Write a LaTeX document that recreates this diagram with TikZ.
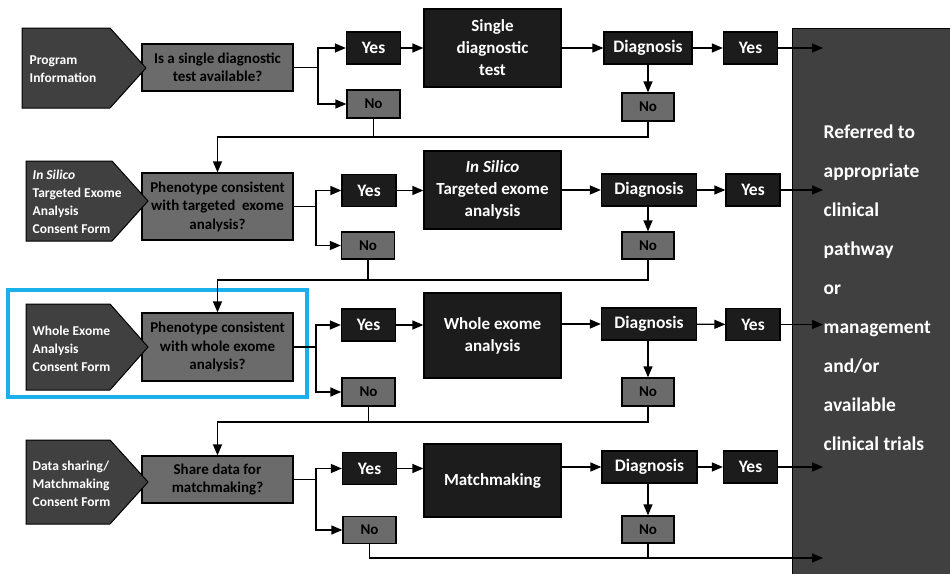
\documentclass[tikz,border=0pt]{standalone}
\usepackage{fontspec}
\setmainfont{Carlito}
\usetikzlibrary{arrows.meta}

\definecolor{tabgray}{HTML}{404040}
\definecolor{askgray}{HTML}{6B6B6B}
\definecolor{boxblack}{HTML}{1C1C1C}
\definecolor{hilite}{HTML}{1AB0EA}

\begin{document}
\begin{tikzpicture}[x=1pt, y=-1pt, line width=1.3pt,
    >={Triangle[length=11pt,width=9pt]},
    tab/.style={draw=black, fill=tabgray, line width=1pt},
    tabtext/.style={anchor=west, align=left, text=white, inner sep=0pt,
      font=\fontsize{13.5}{18}\selectfont\bfseries},
    ask/.style={draw=black, fill=askgray, minimum width=151pt, align=center,
      inner sep=0pt, font=\fontsize{15}{18.5}\selectfont\bfseries},
    yesbox/.style={draw=black, fill=boxblack, text=white, minimum width=54pt,
      minimum height=32pt, inner sep=0pt, font=\fontsize{17.5}{20}\selectfont\bfseries},
    nobox/.style={draw=black, fill=askgray, minimum width=53pt, minimum height=27pt,
      inner sep=0pt, font=\fontsize{15}{18}\selectfont\bfseries},
    diagbox/.style={yesbox, minimum width=95pt},
    testbox/.style={draw=black, fill=boxblack, text=white, minimum width=137pt,
      align=center, inner sep=0pt, font=\fontsize{17}{22}\selectfont\bfseries}]
  \path[use as bounding box, fill=white] (0,0) rectangle (950,573);

  % right hand panel
  \node[draw=black, fill=tabgray, minimum width=162pt, minimum height=548pt,
    anchor=north west, inner sep=0pt] (panel) at (792,28) {};
  \node[anchor=north west, align=left, text=white, inner sep=0pt,
    font=\fontsize{19.5}{39}\selectfont\bfseries] (goal) at (823,124)
    {Referred to\\appropriate\\clinical\\pathway\\or\\management\\and/or\\available\\clinical trials};

  % questions
  \node[ask, minimum height=47pt] (ask1) at (217.5,67.5) {Is a single diagnostic\\test available?};
  \node[ask, minimum height=67pt] (ask2) at (217.5,206.5) {Phenotype consistent\\with targeted\ \ exome\\analysis?};
  \node[ask, minimum height=68pt] (ask3) at (217.5,347) {Phenotype consistent\\with whole exome\\analysis?};
  \node[ask, minimum height=47pt] (ask4) at (217.5,479.5) {Share data for\\matchmaking?};

  % consent tabs
  \draw[tab] (22,28) -- (110,28) -- (146,68) -- (110,108) -- (22,108) -- cycle;
  \draw[tab] (26,161) -- (112,161) -- (148,201) -- (112,241) -- (26,241) -- cycle;
  \draw[tab] (26,304) -- (110,304) -- (148,347) -- (110,390) -- (26,390) -- cycle;
  \draw[tab] (26,440) -- (110,440) -- (148,482) -- (110,524) -- (26,524) -- cycle;
  \node[tabtext] (info1) at (29,69) {Program\\Information};
  \node[tabtext] (info2) at (32,202) {\textit{In Silico}\\Targeted Exome\\Analysis\\Consent Form};
  \node[tabtext] (info3) at (32,349) {Whole Exome\\Analysis\\Consent Form};
  \node[tabtext] (info4) at (32,484) {Data sharing/\\Matchmaking\\Consent Form};
  \draw[hilite, line width=3.5pt] (8,290) rectangle (307,397);

  % yes / no
  \node[yesbox] (yes1) at (373.5,48) {Yes};
  \node[nobox, minimum height=28pt] (no1) at (373.5,104) {No};
  \node[yesbox] (yes2) at (369,190.5) {Yes};
  \node[nobox] (no2) at (368,245.5) {No};
  \node[yesbox] (yes3) at (368.5,325) {Yes};
  \node[nobox, minimum height=28pt] (no3) at (368.5,392) {No};
  \node[yesbox] (yes4) at (369.5,468.5) {Yes};
  \node[nobox] (no4) at (369.5,530) {No};

  % tests
  \node[testbox, minimum height=78pt] (run1) at (492.5,48) {Single\\diagnostic\\test};
  \node[testbox, minimum height=78pt] (run2) at (492.5,190) {\textit{In Silico}\\Targeted exome\\analysis};
  \node[testbox, minimum height=85pt] (run3) at (492.5,335.5) {Whole exome\\analysis};
  \node[testbox, minimum height=73pt] (run4) at (492.5,480.5) {Matchmaking};

  % diagnosis
  \node[diagbox, minimum width=88pt] (diag1) at (648,48) {Diagnosis};
  \node[diagbox] (diag2) at (649,190) {Diagnosis};
  \node[diagbox] (diag3) at (649,324) {Diagnosis};
  \node[diagbox] (diag4) at (649.5,467) {Diagnosis};
  \node[yesbox] (hit1) at (750.5,48) {Yes};
  \node[yesbox] (hit2) at (753,190) {Yes};
  \node[yesbox] (hit3) at (753,324.5) {Yes};
  \node[yesbox] (hit4) at (750.5,467) {Yes};
  \node[nobox, minimum width=52pt, minimum height=28pt] (miss1) at (648,107) {No};
  \node[nobox, minimum width=52pt] (miss2) at (648,245.5) {No};
  \node[nobox, minimum width=52pt, minimum height=28pt] (miss3) at (648,392) {No};
  \node[nobox, minimum width=52pt] (miss4) at (648,529.5) {No};

  \coordinate (fork1) at (318,67.5);
  \coordinate (fork2) at (316,206.5);
  \coordinate (fork3) at (316,347);
  \coordinate (fork4) at (316,479.5);
  \coordinate (back1) at (217.5,137);
  \coordinate (back2) at (217.5,280);
  \coordinate (back3) at (217.5,422);
  \coordinate (sink) at (823,558);

  % row 1
  \draw (ask1) -- (fork1);
  \draw[->] (fork1) |- (yes1);
  \draw[->] (fork1) |- (no1);
  \draw[->] (yes1) -- (run1);
  \draw[->] (run1.east |- diag1) -- (diag1);
  \draw[->] (diag1) -- (hit1);
  \draw[->] (hit1) -- (hit1 -| goal.west);
  \draw[->] (diag1) -- (miss1);
  \draw[->] (miss1) |- (back1) -- (ask2);
  \draw (no1) -- (no1 |- back1);

  % row 2
  \draw (ask2) -- (fork2);
  \draw[->] (fork2) |- (yes2);
  \draw[->] (fork2) |- (no2);
  \draw[->] (yes2) -- (yes2 -| run2.west);
  \draw[->] (run2.east |- diag2) -- (diag2);
  \draw[->] (diag2) -- (hit2);
  \draw[->] (hit2) -- (hit2 -| goal.west);
  \draw[->] (diag2.south -| miss2) -- (miss2);
  \draw[->] (miss2) |- (back2) -- (ask3);
  \draw (no2) -- (no2 |- back2);

  % row 3
  \draw (ask3) -- (fork3);
  \draw[->] (fork3) |- (yes3);
  \draw[->] (fork3) |- (no3);
  \draw[->] (yes3) -- (yes3 -| run3.west);
  \draw[->] (run3.east |- diag3) -- (diag3);
  \draw[->] (diag3) -- (hit3);
  \draw[->] (hit3) -- (hit3 -| goal.west);
  \draw[->] (diag3.south -| miss3) -- (miss3);
  \draw[->] (miss3) |- (back3) -- (ask4);
  \draw (no3) -- (no3 |- back3);

  % row 4
  \draw (ask4) -- (fork4);
  \draw[->] (fork4) |- (yes4);
  \draw[->] (fork4) |- (no4);
  \draw[->] (yes4) -- (yes4 -| run4.west);
  \draw[->] (run4.east |- diag4) -- (diag4);
  \draw[->] (diag4) -- (hit4);
  \draw[->] (hit4) -- (hit4 -| goal.west);
  \draw[->] (diag4.south -| miss4) -- (miss4);
  \draw[->] (no4) |- (sink);
  \draw (miss4) -- (miss4 |- sink);
\end{tikzpicture}
\end{document}
